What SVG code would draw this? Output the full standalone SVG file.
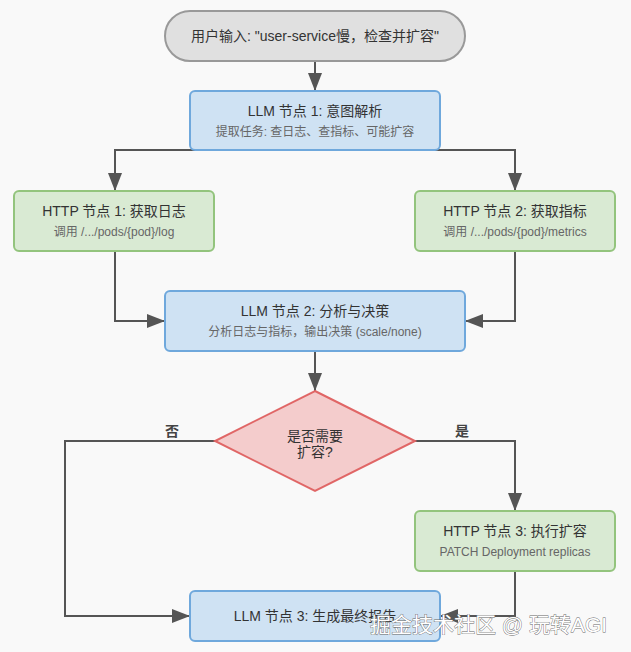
<svg xmlns="http://www.w3.org/2000/svg" width="631" height="652" viewBox="0 0 631 652">
<defs>
<marker id="arr" markerUnits="userSpaceOnUse" markerWidth="18" markerHeight="14" refX="18" refY="7" orient="auto">
<path d="M0,0 L18,7 L0,14 Z" fill="#555"/>
</marker>
<style>
text{font-family:"Liberation Sans","Noto Sans CJK SC",sans-serif;text-anchor:middle;dominant-baseline:central}
.t{font-size:14px;fill:#333}
.s{font-size:12px;fill:#666}
.blue{fill:#cfe2f3;stroke:#6fa8dc;stroke-width:2}
.green{fill:#d9ead3;stroke:#93c47d;stroke-width:2}
.red{fill:#f4cccc;stroke:#e06666;stroke-width:2}
.gray{fill:#e0e0e0;stroke:#999;stroke-width:2}
.c{fill:none;stroke:#555;stroke-width:2;marker-end:url(#arr)}
.lbl{font-size:14px;font-weight:bold;fill:#444}
.wm{font-size:21px;fill:#fff;stroke:#666;stroke-width:0.8;paint-order:stroke;text-anchor:start}
</style>
</defs>
<rect width="631" height="652" fill="#f9f9f9"/>
<g id="connectors">
<path class="c" d="M315,61 L315,91"/>
<path class="c" d="M315,150 L115,150 L115,191"/>
<path class="c" d="M315,150 L515,150 L515,191"/>
<path class="c" d="M115,251 L115,321 L165,321"/>
<path class="c" d="M515,251 L515,321 L465,321"/>
<path class="c" d="M315,351 L315,391"/>
<path class="c" d="M415,441 L515,441 L515,511"/>
<path class="c" d="M215,441 L65,441 L65,616 L190,616"/>
<path class="c" d="M515,571 L515,616 L440,616"/>
<text class="lbl" x="462" y="431">是</text>
<text class="lbl" x="172" y="431">否</text>
</g>
<g id="start">
<rect class="gray" x="165" y="11" width="300" height="50" rx="25"/>
<text class="t" x="315" y="36">用户输入: "user-service慢，检查并扩容"</text>
</g>
<g id="llm1">
<rect class="blue" x="190" y="91" width="250" height="59" rx="5"/>
<text class="t" x="315" y="111">LLM 节点 1: 意图解析</text>
<text class="s" x="315" y="132">提取任务: 查日志、查指标、可能扩容</text>
</g>
<g id="http1">
<rect class="green" x="14" y="191" width="200" height="60" rx="5"/>
<text class="t" x="114" y="211">HTTP 节点 1: 获取日志</text>
<text class="s" x="114" y="232">调用 /.../pods/{pod}/log</text>
</g>
<g id="http2">
<rect class="green" x="415" y="191" width="200" height="60" rx="5"/>
<text class="t" x="515" y="211">HTTP 节点 2: 获取指标</text>
<text class="s" x="515" y="232">调用 /.../pods/{pod}/metrics</text>
</g>
<g id="llm2">
<rect class="blue" x="165" y="291" width="300" height="60" rx="5"/>
<text class="t" x="315" y="311">LLM 节点 2: 分析与决策</text>
<text class="s" x="315" y="332">分析日志与指标，输出决策 (scale/none)</text>
</g>
<g id="decision">
<polygon class="red" points="315,391 415,441 315,491 215,441"/>
<text class="t" x="315" y="436">是否需要</text>
<text class="t" x="315" y="452">扩容?</text>
</g>
<g id="http3">
<rect class="green" x="415" y="511" width="200" height="60" rx="5"/>
<text class="t" x="515" y="531">HTTP 节点 3: 执行扩容</text>
<text class="s" x="515" y="552">PATCH Deployment replicas</text>
</g>
<g id="llm3">
<rect class="blue" x="190" y="591" width="250" height="50" rx="5"/>
<text class="t" x="315" y="616">LLM 节点 3: 生成最终报告</text>
</g>
<text class="wm" x="370" y="624">掘金技术社区 @ 玩转AGI</text>
</svg>
